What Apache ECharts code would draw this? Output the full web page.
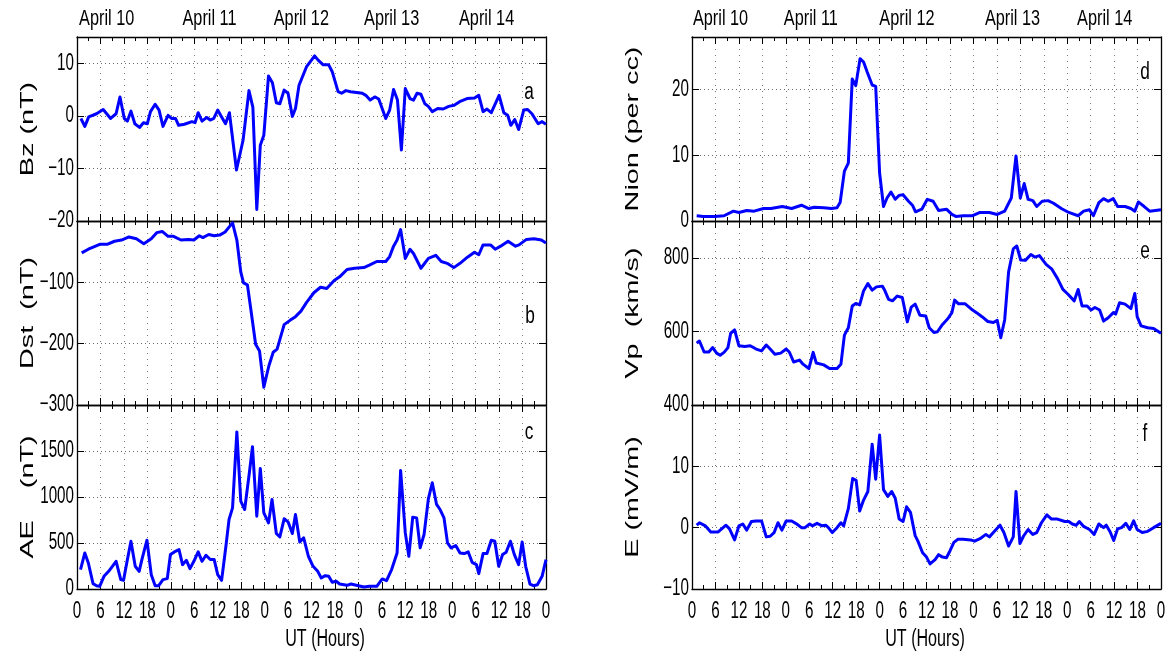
<!DOCTYPE html>
<html>
<head>
<meta charset="utf-8">
<script src="https://cdn.jsdelivr.net/npm/echarts@6/dist/echarts.min.js"></script>
<style>
  html, body { margin: 0; padding: 0; background: #fff; }
  #main { width: 1170px; height: 660px; }
</style>
</head>
<body>
<div id="main"></div>
<script>
// Hours since 10 April 00 UT; ticks every 6 h, labelled with the hour of day
const hourTicks = [0, 6, 12, 18, 24, 30, 36, 42, 48, 54, 60, 66, 72, 78, 84, 90, 96, 102, 108, 114, 120];
const dayLabels = ['April 10', 'April 11', 'April 12', 'April 13', 'April 14'];
const dayLabelHoursLeft = [7.6, 33.9, 57.4, 80.5, 104.8];
const dayLabelHoursRight = [7.3, 30.4, 55.0, 82.0, 105.6];

// IMF Bz (nT)
const bz = [[1.0,-0.5],[2.0,-2.0],[3.0,-0.2],[5.0,0.4],[6.7,1.2],[8.6,-0.5],[10.0,0.4],[11.0,3.6],[12.1,-0.5],[12.9,-1.0],[13.8,0.9],[14.8,-1.5],[16.0,-2.2],[17.0,-1.3],[18.0,-1.5],[18.8,0.8],[20.0,2.2],[21.0,1.1],[22.0,-2.0],[23.3,0.1],[24.2,-0.5],[25.2,-0.5],[26.0,-1.8],[27.5,-1.6],[29.4,-1.1],[30.2,-1.3],[31.0,0.6],[32.0,-1.0],[33.2,-0.3],[34.1,-0.8],[35.0,-0.5],[36.0,1.1],[37.0,-0.2],[38.0,-1.5],[39.0,0.6],[40.8,-10.3],[42.5,-4.6],[44.0,4.8],[45.0,1.6],[46.0,-17.8],[46.9,-5.6],[47.8,-3.7],[49.0,7.6],[50.0,6.3],[51.0,2.5],[51.9,2.3],[53.0,4.9],[54.0,4.3],[55.1,-0.1],[55.9,1.4],[56.8,5.8],[58.7,9.3],[60.8,11.4],[61.7,10.6],[63.0,9.7],[64.4,9.7],[65.3,8.4],[66.8,4.6],[67.7,4.3],[68.8,4.8],[70.0,4.6],[73.0,4.3],[73.9,3.9],[75.0,3.0],[76.2,3.6],[77.2,3.2],[79.0,-0.5],[80.0,1.1],[81.0,5.0],[82.0,3.0],[83.0,-6.5],[84.0,5.2],[85.2,3.3],[86.1,3.0],[87.0,4.3],[88.0,4.1],[89.0,2.3],[89.9,1.8],[90.9,0.8],[92.3,1.4],[93.7,1.3],[95.1,1.8],[96.5,2.0],[97.9,2.7],[99.8,3.3],[101.7,3.4],[102.8,3.9],[103.9,0.8],[104.9,1.3],[106.0,0.6],[108.0,3.9],[109.2,0.6],[110.2,0.1],[111.0,-1.8],[112.0,-0.7],[113.0,-2.6],[114.3,1.1],[115.3,1.2],[116.4,0.4],[118.0,-1.5],[119.0,-1.1],[120.0,-1.6]];

// Dst index (nT)
const dst = [[1.2,-52],[2.9,-46],[4.3,-42],[5.8,-38],[7.7,-38],[9.6,-33],[11.4,-31],[13.3,-26],[15.2,-29],[17.1,-37],[19.0,-29],[20.4,-19],[21.8,-17],[23.3,-25],[24.7,-25],[26.6,-31],[28.5,-30],[29.9,-31],[31.3,-24],[32.2,-27],[33.7,-22],[35.1,-24],[36.5,-23],[37.9,-18],[38.9,-10],[39.8,-3],[40.9,-31],[41.9,-83],[42.6,-101],[43.6,-104],[44.5,-145],[45.7,-201],[46.7,-212],[47.8,-271],[49.1,-236],[50.2,-214],[51.2,-209],[53.0,-169],[54.5,-162],[55.9,-156],[57.3,-147],[58.7,-133],[60.6,-117],[62.3,-108],[63.9,-110],[65.8,-97],[67.2,-91],[69.1,-79],[71.0,-77],[73.4,-76],[74.8,-72],[76.7,-66],[79.0,-66],[80.0,-58],[81.0,-41],[81.9,-31],[82.8,-14],[84.0,-61],[85.2,-46],[86.1,-53],[88.0,-77],[89.9,-61],[91.8,-56],[93.2,-66],[94.7,-69],[96.4,-76],[98.0,-69],[99.9,-59],[101.7,-51],[102.8,-55],[103.9,-39],[105.8,-39],[107.0,-46],[108.4,-41],[110.3,-33],[112.2,-41],[113.1,-39],[115.0,-30],[116.9,-29],[118.8,-31],[120.0,-36]];

// AE index (nT)
const ae = [[0.9,211],[2.0,392],[2.9,283],[4.1,58],[5.0,36],[5.8,29],[6.9,138],[8.1,192],[10.0,301],[11.2,102],[11.9,94],[12.9,320],[13.8,519],[14.9,247],[15.9,192],[16.6,320],[17.9,530],[19.0,156],[20.0,36],[20.9,36],[22.0,102],[23.1,113],[23.9,374],[24.9,403],[26.1,428],[27.0,265],[28.0,312],[28.9,221],[29.9,301],[31.0,403],[32.0,301],[33.0,367],[34.1,320],[35.1,320],[36.0,156],[37.0,94],[38.1,465],[38.9,755],[39.8,882],[40.9,1707],[41.9,955],[42.9,864],[44.1,1264],[44.9,1547],[46.0,792],[46.9,1311],[47.8,828],[49.0,719],[49.9,973],[51.0,603],[51.9,566],[53.0,763],[54.0,730],[55.1,603],[55.9,810],[57.0,512],[58.0,556],[59.2,356],[60.4,247],[61.6,192],[62.5,120],[63.5,145],[64.4,138],[65.3,73],[66.3,84],[67.2,54],[69.1,40],[70.1,54],[72.0,36],[73.4,22],[74.8,29],[76.7,29],[78.1,109],[79.2,91],[80.5,211],[81.9,392],[82.8,1289],[84.0,610],[84.9,356],[85.9,781],[86.9,773],[87.8,447],[88.8,592],[89.9,980],[90.9,1155],[92.0,919],[92.9,864],[93.9,773],[94.8,501],[95.7,447],[96.9,472],[98.0,392],[99.1,385],[100.1,403],[101.1,290],[102.2,265],[102.8,167],[103.9,385],[104.9,385],[106.0,530],[106.9,519],[107.9,247],[108.9,374],[109.8,399],[110.9,519],[111.9,374],[113.0,265],[113.9,512],[114.8,247],[115.9,54],[116.8,36],[117.8,47],[119.0,138],[120.0,320]];

// Solar wind ion density (per cc)
const nion = [[1.2,0.8],[2.9,0.7],[5.8,0.7],[8.2,0.8],[10.6,1.5],[12.0,1.3],[14.0,1.6],[15.9,1.5],[18.3,1.9],[20.2,1.9],[23.1,2.2],[25.5,1.9],[28.0,2.4],[29.9,1.9],[31.3,2.1],[33.7,2.0],[35.7,1.9],[37.1,2.0],[37.9,2.8],[39.0,7.6],[40.0,8.8],[41.0,21.6],[41.9,20.6],[43.0,24.7],[43.9,24.2],[44.8,22.7],[46.1,20.7],[47.0,20.5],[48.0,7.3],[49.0,2.2],[49.9,3.5],[50.9,4.4],[52.0,3.3],[53.0,3.9],[54.0,4.0],[55.4,3.0],[56.4,2.4],[57.2,1.4],[58.8,1.8],[60.2,3.3],[61.7,3.0],[63.1,1.6],[65.1,1.8],[66.5,1.0],[67.5,0.7],[69.4,0.8],[71.8,0.8],[73.7,1.3],[76.1,1.3],[78.1,1.0],[80.0,1.5],[81.7,3.5],[82.9,9.9],[84.0,3.5],[85.0,5.7],[86.0,3.3],[87.2,3.1],[88.2,2.2],[89.6,3.0],[91.1,3.1],[92.5,2.7],[94.5,1.9],[96.4,1.3],[98.8,0.8],[100.2,1.5],[101.7,1.7],[102.7,0.8],[104.1,2.8],[105.3,3.4],[106.5,3.0],[107.8,3.4],[108.9,2.2],[110.8,2.2],[112.3,1.9],[113.3,1.5],[114.2,2.9],[115.7,2.2],[117.1,1.5],[120.0,1.7]];

// Solar wind proton speed (km/s)
const vp = [[1.2,568],[1.9,574],[3.1,544],[4.3,544],[5.3,556],[6.3,541],[7.2,535],[8.2,543],[9.2,556],[9.9,595],[10.9,604],[12.0,561],[13.5,559],[14.9,561],[16.4,552],[17.8,547],[19.0,563],[20.0,552],[21.2,538],[22.7,541],[24.1,552],[24.9,544],[26.0,517],[27.5,522],[28.4,511],[29.9,499],[31.0,543],[31.8,514],[33.7,509],[35.2,499],[37.1,499],[38.1,511],[39.0,590],[40.0,610],[41.0,669],[41.9,676],[42.9,672],[43.9,710],[45.0,730],[46.1,712],[47.2,721],[48.7,723],[49.2,714],[50.3,687],[51.3,683],[52.5,696],[53.8,692],[55.1,626],[56.1,666],[57.1,674],[58.3,644],[59.8,642],[60.7,610],[61.9,597],[62.8,599],[64.1,619],[65.5,635],[66.5,651],[67.2,685],[68.2,675],[69.9,675],[71.8,658],[72.8,651],[74.2,640],[75.7,627],[77.1,624],[78.1,630],[79.0,583],[80.0,631],[81.0,761],[82.2,824],[83.1,832],[84.1,794],[85.3,793],[86.7,809],[87.7,802],[88.9,806],[90.6,782],[92.0,770],[93.5,744],[94.9,714],[96.2,701],[97.8,683],[98.8,714],[99.8,669],[101.1,669],[102.1,658],[103.1,665],[104.3,658],[105.3,628],[106.5,637],[107.8,651],[108.4,647],[109.4,678],[110.8,674],[112.3,662],[113.3,703],[113.9,640],[114.9,615],[116.6,610],[118.1,608],[120.0,595]];

// Interplanetary electric field (mV/m)
const efield = [[1.2,0.4],[1.9,0.8],[3.4,0.3],[4.8,-0.7],[6.7,-0.7],[8.7,0.4],[9.6,-0.2],[10.9,-2.0],[12.0,0.3],[13.0,0.6],[14.0,-0.4],[15.2,1.0],[16.4,1.1],[17.8,1.1],[19.0,-1.5],[20.0,-1.4],[21.0,-0.8],[22.0,0.8],[23.0,-0.4],[24.1,1.1],[25.5,1.1],[26.8,0.6],[28.0,0.0],[28.9,0.0],[30.1,0.6],[30.8,0.3],[32.0,0.7],[33.3,0.3],[34.2,0.4],[34.9,0.0],[35.9,-0.8],[37.1,0.0],[38.1,0.8],[38.8,0.3],[40.0,3.1],[41.1,8.0],[42.0,7.7],[42.9,2.7],[43.9,4.5],[45.0,5.9],[46.1,13.6],[47.0,7.9],[48.0,15.1],[49.0,6.2],[50.1,5.1],[51.1,5.9],[52.0,4.8],[53.0,1.4],[54.0,1.0],[54.9,3.4],[55.9,2.5],[57.1,-1.3],[57.8,-2.2],[59.0,-4.1],[60.0,-4.8],[60.9,-5.9],[62.2,-5.2],[63.1,-4.4],[64.1,-4.8],[65.1,-4.9],[66.0,-3.8],[67.0,-2.4],[68.0,-1.9],[69.4,-1.9],[71.3,-2.0],[72.3,-2.2],[73.7,-1.8],[75.2,-1.1],[76.1,-1.5],[77.1,-0.8],[78.8,0.4],[79.8,-0.8],[81.0,-3.0],[82.2,-1.5],[82.9,5.9],[83.9,-2.6],[84.8,-1.4],[86.0,-0.3],[87.2,-1.1],[88.2,-0.8],[89.4,0.8],[90.8,2.1],[92.0,1.4],[93.5,1.4],[95.4,1.0],[96.4,1.0],[97.3,0.6],[98.3,0.4],[99.1,1.0],[100.2,0.2],[101.7,-0.3],[102.9,-1.1],[104.1,0.6],[105.3,0.0],[106.0,0.4],[107.0,-0.7],[107.9,-2.1],[108.9,-0.2],[109.9,0.0],[111.0,0.7],[112.0,-0.3],[113.0,1.1],[113.9,-0.3],[115.2,-0.8],[116.6,-0.6],[118.1,0.0],[120.0,0.7]];

// Labelled y ticks per panel
const bzTicks = [-20, -10, 0, 10];
const dstTicks = [-300, -200, -100];
const aeTicks = [0, 500, 1000, 1500];
const nionTicks = [0, 10, 20];
const vpTicks = [400, 600, 800];
const eTicks = [-10, 0, 10];

const panels = [
  { data: bz,     min: -20,  max: 15,   step: 10,  ticks: bzTicks,   name: 'Bz (nT)',       letter: 'a', col: 0, row: 0, lx: 529,  ly: 93 },
  { data: dst,    min: -300, max: 0,    step: 100, ticks: dstTicks,  name: 'Dst  (nT)',     letter: 'b', col: 0, row: 1, lx: 530,  ly: 317 },
  { data: ae,     min: 0,    max: 2000, step: 500, ticks: aeTicks,   name: 'AE    (nT)',    letter: 'c', col: 0, row: 2, lx: 529,  ly: 433 },
  { data: nion,   min: 0,    max: 28,   step: 10,  ticks: nionTicks, name: 'Nion (per cc)', letter: 'd', col: 1, row: 0, lx: 1145, ly: 73 },
  { data: vp,     min: 400,  max: 900,  step: 200, ticks: vpTicks,   name: 'Vp  (km/s)',    letter: 'e', col: 1, row: 1, lx: 1145, ly: 252 },
  { data: efield, min: -10,  max: 20,   step: 10,  ticks: eTicks,    name: 'E (mV/m)',      letter: 'f', col: 1, row: 2, lx: 1145, ly: 435 }
];

// Layout of the two stacked columns
const colLeft = [77, 692];
const colWidth = 469;
const rowTop = [37, 221, 405];
const rowHeight = 184;
const nameX = [28, 633];
const utX = [325, 925];

const BLACK = '#000';
const LINE_BLUE = '#0000ff';
const TICK_FONT = '23px "Liberation Sans", Arial, sans-serif';
const NARROW = 0.66;

const grids = [], xAxes = [], yAxes = [], series = [];
const dottedH = { color: '#444', width: 0.8, type: [1, 3] };
const dottedV = { color: '#555', width: 0.8, type: [1, 5] };

panels.forEach((p, i) => {
  grids.push({
    left: colLeft[p.col], top: rowTop[p.row], width: colWidth, height: rowHeight,
    containLabel: false, outerBoundsMode: 'none'
  });
  const xCommon = {
    gridIndex: i, type: 'value', min: 0, max: 120, interval: 6,
    axisLine: { show: true, onZero: false, lineStyle: { color: BLACK, width: 1.3 } },
    axisTick: { show: true, inside: true, length: 7, lineStyle: { color: BLACK, width: 1 } },
    minorTick: { show: true, splitNumber: 2, length: 4, lineStyle: { color: BLACK, width: 1 } },
    axisLabel: { show: false }
  };
  xAxes.push(Object.assign({}, xCommon, { position: 'bottom', splitLine: { show: true, lineStyle: dottedV } }));
  xAxes.push(Object.assign({}, xCommon, { position: 'top', splitLine: { show: false } }));
  const yCommon = {
    gridIndex: i, type: 'value', min: p.min, max: p.max, interval: p.step,
    axisLine: { show: true, onZero: false, lineStyle: { color: BLACK, width: 1.3 } },
    axisTick: { show: true, inside: true, length: 7, lineStyle: { color: BLACK, width: 1 } },
    axisLabel: { show: false }
  };
  yAxes.push(Object.assign({}, yCommon, { position: 'left', splitLine: { show: true, lineStyle: dottedH } }));
  yAxes.push(Object.assign({}, yCommon, { position: 'right', splitLine: { show: false } }));
  series.push({
    type: 'line', xAxisIndex: 2 * i, yAxisIndex: 2 * i, data: p.data,
    showSymbol: false, symbol: 'none', smooth: false, clip: true,
    lineStyle: { color: LINE_BLUE, width: 3, join: 'round' }
  });
});

const chart = echarts.init(document.getElementById('main'), null, { renderer: 'canvas' });
chart.setOption({
  backgroundColor: '#fff',
  animation: false,
  grid: grids, xAxis: xAxes, yAxis: yAxes, series: series
});

// MATLAB-style tall, narrow lettering, drawn as scaled text
function narrowText(text, x, y, align, scale, font) {
  return {
    type: 'text', x: x, y: y, scaleX: scale == null ? NARROW : scale, silent: true,
    style: {
      text: text, font: font || TICK_FONT, fill: BLACK,
      align: align, verticalAlign: 'middle',
      textAlign: align, textVerticalAlign: 'middle'
    }
  };
}
function fmt(v) { return v < 0 ? '\u2212' + Math.abs(v) : String(v); }

const texts = [];
panels.forEach((p, i) => {
  const left = colLeft[p.col];
  // y tick labels
  p.ticks.forEach(v => {
    const py = chart.convertToPixel({ yAxisIndex: 2 * i }, v);
    texts.push(narrowText(fmt(v), left - 3, py, 'right'));
  });
  // hour-of-day labels under the bottom panel of each column
  if (p.row === 2) {
    hourTicks.forEach(h => {
      const px = chart.convertToPixel({ xAxisIndex: 2 * i }, h);
      texts.push(narrowText(String(h % 24), px, 612, 'center'));
    });
    texts.push(narrowText('UT (Hours)', utX[p.col], 640, 'center', 0.7));
  }
  // day labels above the top panel of each column
  if (p.row === 0) {
    const hrs = p.col === 0 ? dayLabelHoursLeft : dayLabelHoursRight;
    dayLabels.forEach((d, k) => {
      const px = chart.convertToPixel({ xAxisIndex: 2 * i }, hrs[k]);
      texts.push(narrowText(d, px, 19, 'center', 0.74, '22px "Liberation Sans", Arial, sans-serif'));
    });
  }
  // panel letter
  texts.push(narrowText(p.letter, p.lx, p.ly, 'center', 0.75));
  // rotated quantity name, stretched along its length
  texts.push({
    type: 'text', x: nameX[p.col], y: rowTop[p.row] + rowHeight / 2,
    rotation: Math.PI / 2, scaleX: 1.6, silent: true,
    style: {
      text: p.name, font: '18px "Liberation Sans", Arial, sans-serif', fill: BLACK,
      align: 'center', verticalAlign: 'middle', textAlign: 'center', textVerticalAlign: 'middle'
    }
  });
});

chart.setOption({ graphic: { elements: texts } });
</script>
</body>
</html>
